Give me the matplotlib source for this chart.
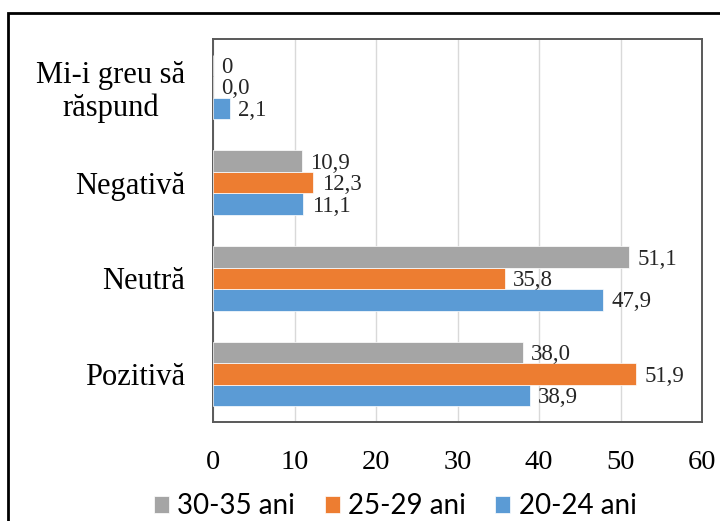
import numpy as np
import matplotlib.pyplot as plt
from matplotlib.patches import Rectangle

# categories bottom -> top
categories = ['Pozitivă', 'Neutră', 'Negativă', 'Mi-i greu să\nrăspund']
ani_20_24 = [38.9, 47.9, 11.1, 2.1]
ani_25_29 = [51.9, 35.8, 12.3, 0.0]
ani_30_35 = [38.0, 51.1, 10.9, 0.0]
labels_20_24 = ['38,9', '47,9', '11,1', '2,1']
labels_25_29 = ['51,9', '35,8', '12,3', '0,0']
labels_30_35 = ['38,0', '51,1', '10,9', '0']
x_ticks = [0, 10, 20, 30, 40, 50, 60]

serif = 'Liberation Serif'
fig = plt.figure(figsize=(7.2, 5.21), dpi=100)
ax = fig.add_axes([213/720, 1-422/521, (702-213)/720, (422-39)/521])

y = np.arange(len(categories))
h = 0.224
series = [
    (ani_20_24, labels_20_24, '#5B9BD5', '20-24 ani', -h),
    (ani_25_29, labels_25_29, '#ED7D31', '25-29 ani', 0),
    (ani_30_35, labels_30_35, '#A5A5A5', '30-35 ani', h),
]
handles = {}
for vals, labs, col, name, off in series:
    bars = ax.barh(y + off, vals, height=h, color=col, edgecolor='white',
                   linewidth=0.5, zorder=3, label=name)
    handles[name] = bars
    for b, t in zip(bars, labs):
        ax.annotate(t, (b.get_width(), b.get_y() + b.get_height()/2),
                    xytext=(6, -1.5), textcoords='offset points',
                    ha='left', va='center', fontsize=16.5, family=serif,
                    color='#262626')

ax.set_xlim(0, 60)
ax.set_ylim(-0.5, 3.5)
ax.set_xticks(x_ticks)
ax.set_yticks(y)
ax.set_yticklabels(categories)
for lab in ax.get_yticklabels():
    lab.set_multialignment('center')
    lab.set_linespacing(1.15)
    lab.set_fontsize(22)
ax.tick_params(axis='x', length=0, pad=20, labelsize=20.5)
ax.tick_params(axis='y', length=0, pad=20)
for lab in ax.get_xticklabels() + ax.get_yticklabels():
    lab.set_family(serif)
    lab.set_color('black')
ax.grid(axis='x', color='#D9D9D9', linewidth=1, zorder=0)
for s in ax.spines.values():
    s.set_color('#595959')
    s.set_linewidth(1.4)

order = ['30-35 ani', '25-29 ani', '20-24 ani']
leg = fig.legend([handles[n] for n in order], order, loc='center',
                 bbox_to_anchor=(0.549, 1-506/521), ncol=3, frameon=False,
                 prop={'family': 'Lato', 'size': 20}, handlelength=0.55,
                 handleheight=0.55, handletextpad=0.3, columnspacing=1.05)

fig.patches.append(Rectangle((8/720, -0.1), 1.2, 1.1 - 13/521,
                             transform=fig.transFigure, fill=False,
                             edgecolor='black', linewidth=2))

fig.savefig('out.png', dpi=100)
